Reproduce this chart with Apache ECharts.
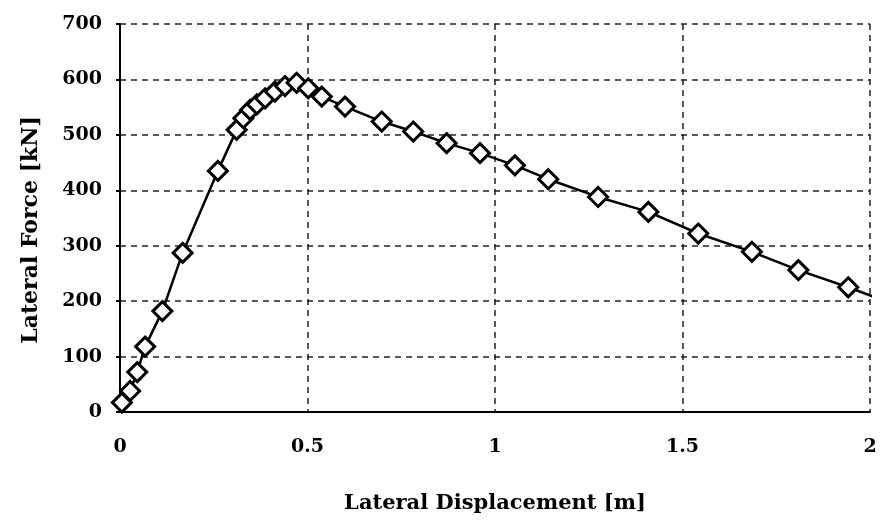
<!DOCTYPE html>
<html>
<head>
<meta charset="utf-8">
<script src="https://cdn.jsdelivr.net/npm/echarts@6/dist/echarts.min.js"></script>
<style>
  html, body { margin: 0; padding: 0; background: #fff; }
  #chart { width: 881px; height: 529px; }
</style>
</head>
<body>
<div id="chart"></div>
<script>
  // displacement [m] and force [kN]
  var displacement = [0.005, 0.027, 0.046, 0.067, 0.113, 0.167, 0.261,
    0.311, 0.329, 0.347, 0.365, 0.387, 0.413, 0.44, 0.471, 0.502, 0.538,
    0.6, 0.698, 0.782, 0.871, 0.96, 1.053, 1.142, 1.275, 1.409, 1.542,
    1.685, 1.809, 1.942, 2.1];
  var force = [17, 38, 72, 118, 182, 287, 435,
    509, 530, 545, 555, 566, 578, 588, 594, 584, 569,
    551, 524, 506, 485, 467, 445, 420, 388, 361, 322,
    289, 256, 225, 185];
  var yTicks = [0, 100, 200, 300, 400, 500, 600, 700];
  var xTicks = [0, 0.5, 1, 1.5, 2];

  var serif = '"DejaVu Serif", "Liberation Serif", serif';

  var points = displacement.map(function(x, i) {
    var p = { value: [x, force[i]] };
    // last point lies outside the axis range, only the line runs there
    if (x > 2) p.symbol = 'none';
    return p;
  });

  var chart = echarts.init(document.getElementById('chart'));
  chart.setOption({
    animation: false,
    grid: {
      left: 120,
      right: 11,
      top: 24,
      bottom: 117
    },
    xAxis: {
      type: 'value',
      min: xTicks[0],
      max: xTicks[xTicks.length - 1],
      interval: 0.5,
      name: 'Lateral Displacement [m]',
      nameLocation: 'middle',
      nameGap: 81,
      nameTextStyle: { fontFamily: serif, fontWeight: 'bold', fontSize: 21, color: '#000' },
      axisLine: { lineStyle: { color: '#000', width: 2 } },
      axisTick: { show: false },
      axisLabel: {
        margin: 26,
        fontFamily: serif,
        fontWeight: 'bold',
        fontSize: 19,
        color: '#000',
        formatter: function(v) { return xTicks.indexOf(v) >= 0 ? String(v) : ''; }
      },
      splitLine: { show: true, lineStyle: { color: '#222', type: [6, 5], width: 1.5 } }
    },
    yAxis: {
      type: 'value',
      min: yTicks[0],
      max: yTicks[yTicks.length - 1],
      interval: 100,
      name: 'Lateral Force [kN]',
      nameLocation: 'middle',
      nameGap: 78,
      nameTextStyle: {
        fontFamily: serif, fontWeight: 'bold', fontSize: 22, color: '#000',
        padding: [0, 24, 0, 0]
      },
      axisLine: { show: true, lineStyle: { color: '#000', width: 2 } },
      axisTick: { show: true, length: 4, lineStyle: { color: '#000', width: 2 } },
      axisLabel: {
        margin: 18,
        fontFamily: serif,
        fontWeight: 'bold',
        fontSize: 19,
        color: '#000'
      },
      splitLine: { show: true, lineStyle: { color: '#222', type: [6, 5], width: 1.5 } }
    },
    series: [{
      type: 'line',
      data: points,
      clip: false,
      symbol: 'diamond',
      symbolSize: 19,
      showAllSymbol: true,
      lineStyle: { color: '#000', width: 2.5 },
      itemStyle: { color: '#fff', borderColor: '#000', borderWidth: 3 },
      z: 3
    }]
  });
</script>
</body>
</html>
